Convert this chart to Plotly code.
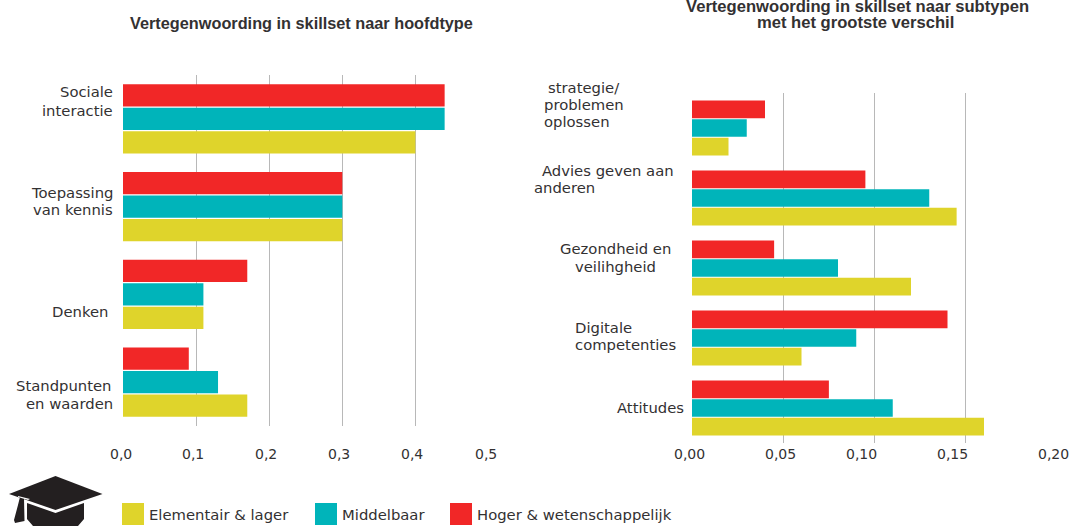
import plotly.graph_objects as go

W, H = 1071, 526
series_names = ["Hoger & wetenschappelijk", "Middelbaar", "Elementair & lager"]
series_colors = ["#F12727", "#00B4BA", "#DFD42B"]

left_title = "Vertegenwoording in skillset naar hoofdtype"
left_categories = ["Sociale interactie", "Toepassing van kennis", "Denken", "Standpunten en waarden"]
left_hoger = [0.44, 0.30, 0.17, 0.09]
left_middel = [0.44, 0.30, 0.11, 0.13]
left_elem = [0.40, 0.30, 0.11, 0.17]
left_ticks = [0.0, 0.1, 0.2, 0.3, 0.4, 0.5]
left_ticktext = ["0,0", "0,1", "0,2", "0,3", "0,4", "0,5"]

right_title_lines = ["Vertegenwoording in skillset naar subtypen", "met het grootste verschil"]
right_categories = ["strategie/ problemen oplossen", "Advies geven aan anderen", "Gezondheid en veilihgheid", "Digitale competenties", "Attitudes"]
right_hoger = [0.04, 0.095, 0.045, 0.14, 0.075]
right_middel = [0.03, 0.13, 0.08, 0.09, 0.11]
right_elem = [0.02, 0.145, 0.12, 0.06, 0.16]
right_ticks = [0.0, 0.05, 0.10, 0.15, 0.20]
right_ticktext = ["0,00", "0,05", "0,10", "0,15", "0,20"]

FONT = "DejaVu Sans"
SIZE = 14.8
TICK_SIZE = 14
TXT = "#333132"

fig = go.Figure()
for name, col, l, r in zip(series_names, series_colors,
                           [left_hoger, left_middel, left_elem],
                           [right_hoger, right_middel, right_elem]):
    fig.add_bar(y=left_categories, x=l, name=name, orientation="h", marker=dict(color=col, line_width=0), xaxis="x", yaxis="y", showlegend=False)
    fig.add_bar(y=right_categories, x=r, name=name, orientation="h", marker=dict(color=col, line_width=0), xaxis="x2", yaxis="y2", showlegend=False)

def px(v): return v / W
def py(v): return 1 - v / H

fig.update_layout(
    width=W, height=H, margin=dict(l=0, r=0, t=0, b=0, autoexpand=False),
    paper_bgcolor="white", plot_bgcolor="white", barmode="group",
    bargap=0.2, bargroupgap=0.05, showlegend=False,
    font=dict(family=FONT, size=SIZE, color=TXT),
    xaxis=dict(domain=[px(123), px(488.5)], range=[0, 0.5], tickvals=left_ticks,
               showgrid=True, gridcolor="#b8b8b8", gridwidth=1.4, zeroline=False, showline=False,
               anchor="y", ticks="", showticklabels=False),
    yaxis=dict(domain=[py(426), py(75)], autorange="reversed", showticklabels=False, showgrid=False,
               zeroline=False, showline=False, anchor="x"),
    xaxis2=dict(domain=[px(692), px(1057)], range=[0, 0.2], tickvals=right_ticks,
                showgrid=True, gridcolor="#b8b8b8", gridwidth=1.4, zeroline=False, showline=False,
                anchor="y2", ticks="", showticklabels=False),
    yaxis2=dict(domain=[py(443), py(93)], autorange="reversed", showticklabels=False, showgrid=False,
                zeroline=False, showline=False, anchor="x2"),
)

ann = []
def text_at(text, x, y, anchor, family=FONT, size=SIZE):
    ann.append(dict(text=text, x=px(x), y=py(y), xref="paper", yref="paper", showarrow=False,
                    xanchor=anchor, yanchor="middle", borderpad=0, borderwidth=0,
                    font=dict(family=family, size=size, color=TXT)))

# category labels, one line at a time: (text, x, y, anchor)
for t, x, y, a in [
    ("Sociale", 113, 92, "right"), ("interactie", 113, 110, "right"),
    ("Toepassing", 113, 192, "right"), ("van kennis", 113, 209, "right"),
    ("Denken", 108, 311, "right"),
    ("Standpunten", 111, 386, "right"), ("en waarden", 113, 403, "right"),
    ("strategie/", 548, 87, "left"), ("problemen", 544, 104, "left"), ("oplossen", 544, 121, "left"),
    ("Advies geven aan", 542, 170, "left"), ("anderen", 534, 187, "left"),
    ("Gezondheid en", 615.5, 248, "center"), ("veilihgheid", 615.5, 266, "center"),
    ("Digitale", 575, 327, "left"), ("competenties", 575, 344, "left"),
    ("Attitudes", 684, 407, "right"),
]:
    text_at(t, x, y, a)

# x tick labels sit slightly off their gridlines in the reference
left_label_shift = [-2, -3, -3, -3, -3, -3]
right_label_shift = [-3, -3, -13, -13, -4]
for v, t, s in zip(left_ticks, left_ticktext, left_label_shift):
    ann.append(dict(text=t, x=v, xref="x", y=py(454), yref="paper", xshift=s, showarrow=False,
                    yanchor="middle", xanchor="center", font=dict(family=FONT, size=TICK_SIZE, color=TXT)))
for v, t, s in zip(right_ticks, right_ticktext, right_label_shift):
    ann.append(dict(text=t, x=v, xref="x2", y=py(454), yref="paper", xshift=s, showarrow=False,
                    yanchor="middle", xanchor="center", font=dict(family=FONT, size=TICK_SIZE, color=TXT)))

TSIZE = 16.3
text_at("<b>" + left_title + "</b>", 301.5, 23, "center", "Liberation Sans", TSIZE)
text_at("<b>" + right_title_lines[0] + "</b>", 857, 7, "center", "Liberation Sans", 16.6)
text_at("<b>" + right_title_lines[1] + "</b>", 855, 23, "center", "Liberation Sans", 16.6)

shapes = []
legend_order = [2, 1, 0]
for i, (sx, tx) in zip(legend_order, [(122, 149), (315, 342), (450, 477)]):
    shapes.append(dict(type="rect", xref="paper", yref="paper", x0=px(sx), x1=px(sx + 22),
                       y0=py(525), y1=py(503), fillcolor=series_colors[i], line_width=0))
    text_at(series_names[i], tx, 514, "left")

# graduation cap icon, page pixels converted to paper fractions
def path(points):
    return "M " + " L ".join(f"{px(a):.5f},{py(b):.5f}" for a, b in points) + " Z"
cap_points = [[(55.5, 476), (102.5, 494), (55.5, 510), (9, 494)],
              [(27, 503), (55.5, 513), (84, 503), (84, 519), (78, 526), (33, 526), (27, 519)],
              [(20, 497), (24, 498), (24.5, 521), (15, 523), (14, 520), (18, 505)]]
for pts in cap_points:
    shapes.append(dict(type="path", xref="paper", yref="paper", path=path(pts), fillcolor="#231F20", line_width=0))
shapes.append(dict(type="path", xref="paper", yref="paper", path=path([(18, 496), (30, 499), (28, 500), (18, 497)]),
                   fillcolor="white", line_width=0))

fig.update_layout(annotations=ann, shapes=shapes)
fig.write_html("out.html", config=dict(displayModeBar=False), post_script="document.body.style.margin='0';")
